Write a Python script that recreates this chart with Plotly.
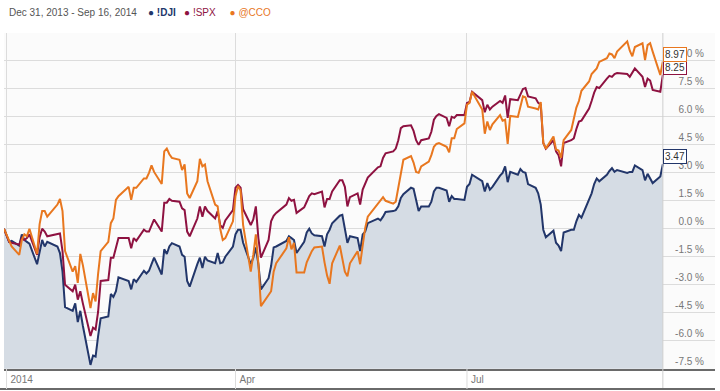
import plotly.graph_objects as go
from datetime import datetime

# ---------------- data ----------------
dates = [
    "2013-12-31",
    "2014-01-02", "2014-01-03", "2014-01-06", "2014-01-07", "2014-01-08", "2014-01-09", "2014-01-10",
    "2014-01-13", "2014-01-14", "2014-01-15", "2014-01-16", "2014-01-17", "2014-01-21", "2014-01-22",
    "2014-01-23", "2014-01-24", "2014-01-27", "2014-01-28", "2014-01-29", "2014-01-30", "2014-01-31",
    "2014-02-03", "2014-02-04", "2014-02-05", "2014-02-06", "2014-02-07", "2014-02-10", "2014-02-11",
    "2014-02-12", "2014-02-13", "2014-02-14", "2014-02-18", "2014-02-19", "2014-02-20", "2014-02-21",
    "2014-02-24", "2014-02-25", "2014-02-26", "2014-02-27", "2014-02-28",
    "2014-03-03", "2014-03-04", "2014-03-05", "2014-03-06", "2014-03-07", "2014-03-10", "2014-03-11",
    "2014-03-12", "2014-03-13", "2014-03-14", "2014-03-17", "2014-03-18", "2014-03-19", "2014-03-20",
    "2014-03-21", "2014-03-24", "2014-03-25", "2014-03-26", "2014-03-27", "2014-03-28", "2014-03-31",
    "2014-04-01", "2014-04-02", "2014-04-03", "2014-04-04", "2014-04-07", "2014-04-08", "2014-04-09",
    "2014-04-10", "2014-04-11", "2014-04-14", "2014-04-15", "2014-04-16", "2014-04-17", "2014-04-21",
    "2014-04-22", "2014-04-23", "2014-04-24", "2014-04-25", "2014-04-28", "2014-04-29", "2014-04-30",
    "2014-05-01", "2014-05-02", "2014-05-05", "2014-05-06", "2014-05-07", "2014-05-08", "2014-05-09",
    "2014-05-12", "2014-05-13", "2014-05-14", "2014-05-15", "2014-05-16", "2014-05-19", "2014-05-20",
    "2014-05-21", "2014-05-22", "2014-05-23", "2014-05-27", "2014-05-28", "2014-05-29", "2014-05-30",
    "2014-06-02", "2014-06-03", "2014-06-04", "2014-06-05", "2014-06-06", "2014-06-09", "2014-06-10",
    "2014-06-11", "2014-06-12", "2014-06-13", "2014-06-16", "2014-06-17", "2014-06-18", "2014-06-19",
    "2014-06-20", "2014-06-23", "2014-06-24", "2014-06-25", "2014-06-26", "2014-06-27", "2014-06-30",
    "2014-07-01", "2014-07-02", "2014-07-03", "2014-07-07", "2014-07-08", "2014-07-09", "2014-07-10",
    "2014-07-11", "2014-07-14", "2014-07-15", "2014-07-16", "2014-07-17", "2014-07-18", "2014-07-21",
    "2014-07-22", "2014-07-23", "2014-07-24", "2014-07-25", "2014-07-28", "2014-07-29", "2014-07-30",
    "2014-07-31",
    "2014-08-01", "2014-08-04", "2014-08-05", "2014-08-06", "2014-08-07", "2014-08-08", "2014-08-11",
    "2014-08-12", "2014-08-13", "2014-08-14", "2014-08-15", "2014-08-18", "2014-08-19", "2014-08-20",
    "2014-08-21", "2014-08-22", "2014-08-25", "2014-08-26", "2014-08-27", "2014-08-28", "2014-08-29",
    "2014-09-02", "2014-09-03", "2014-09-04", "2014-09-05", "2014-09-08", "2014-09-09", "2014-09-10",
    "2014-09-11", "2014-09-12", "2014-09-15", "2014-09-16",
]

dji = [
    0.0, -0.7, -0.65, -0.9, -0.3, -0.6, -0.7, -0.8, -1.9, -1.2,
    -0.6, -0.95, -0.7, -0.95, -1.3, -2.3, -4.2, -4.4, -4.0, -5.0,
    -4.4, -5.2, -7.3, -6.8, -6.85, -5.75, -4.8, -4.7, -3.5, -3.65,
    -3.35, -2.6, -2.8, -3.25, -2.7, -2.85, -2.25, -2.4, -2.25, -1.9,
    -1.55, -2.45, -1.1, -1.35, -0.95, -0.77, -0.95, -1.4, -1.5, -2.8,
    -3.1, -1.9, -1.55, -2.1, -1.5, -1.7, -1.85, -1.3, -1.85, -1.8,
    -1.5, -0.95, -0.3, -0.05, -0.05, -0.75, -1.9, -1.55, -1.0, -1.9,
    -3.25, -2.65, -2.0, -1.0, -0.95, -0.65, -0.4, -0.5, -0.6, -1.3,
    -0.7, -0.2, 0.0, -0.25, -0.35, -0.4, -0.95, -0.3, -0.05, 0.3,
    0.7, 0.75, 0.05, -0.75, -0.4, -0.5, -1.2, -0.3, -0.15, 0.3,
    0.55, 0.45, 0.65, 0.9, 0.95, 1.0, 1.2, 1.65, 1.85, 2.2,
    2.15, 1.5, 0.95, 1.2, 1.2, 1.45, 2.0, 2.2, 2.2, 2.05,
    1.45, 1.75, 1.6, 1.6, 1.55, 2.25, 2.4, 2.9, 2.55, 2.0,
    2.45, 2.1, 2.25, 2.85, 3.0, 3.35, 2.5, 3.05, 2.9, 3.2,
    3.05, 3.0, 2.4, 2.2, 1.9, 1.3, -0.05, -0.45, -0.1, -0.75,
    -0.9, -1.2, -0.2, -0.05, -0.05, 0.4, 0.75, 0.6, 1.55, 1.9,
    2.4, 2.7, 2.55, 2.9, 3.1, 3.25, 3.05, 3.15, 3.0, 3.05,
    3.05, 3.4, 3.15, 2.6, 2.95, 2.7, 2.45, 2.8, 3.47,
]

spx = [
    0.0, -0.7, -0.75, -0.85, -0.5, -0.6, -0.5, -0.3, -1.4, -0.45,
    0.0, -0.15, -0.4, -0.25, -0.25, -1.2, -3.0, -3.35, -3.0, -3.8,
    -3.35, -4.0, -5.75, -5.3, -5.4, -4.45, -2.8, -2.75, -1.55, -1.55,
    -0.95, -0.5, -0.5, -1.05, -0.5, -0.65, -0.05, -0.15, -0.15, 0.2,
    0.5, -0.15, 1.4, 1.4, 1.6, 1.5, 1.45, 1.1, 1.0, -0.15,
    -0.4, 0.55, 1.2, 0.65, 1.2, 0.95, 0.55, 0.95, 0.2, 0.05,
    0.45, 1.0, 2.2, 2.35, 2.2, 1.05, 0.2, 0.5, 1.2, -0.5,
    -1.55, -0.6, 0.4, 0.7, 0.85, 1.3, 1.65, 1.5, 1.55, 0.85,
    1.15, 1.45, 1.75, 1.9, 1.85, 2.0, 1.15, 1.6, 1.6, 2.0,
    2.6, 2.6, 2.25, 1.2, 1.7, 1.9, 1.3, 2.1, 2.4, 2.75,
    3.3, 3.35, 3.8, 4.05, 4.15, 4.3, 4.75, 5.4, 5.5, 5.55,
    5.25, 4.75, 4.5, 4.75, 4.85, 5.2, 5.85, 6.05, 6.15, 5.95,
    5.5, 6.0, 5.95, 6.1, 6.1, 6.75, 6.8, 7.35, 6.9, 6.25,
    6.65, 6.4, 6.55, 6.85, 6.75, 7.15, 5.95, 6.95, 6.9, 7.25,
    7.5, 7.55, 7.1, 7.0, 6.75, 6.65, 4.6, 4.3, 4.75, 4.15,
    3.95, 3.35, 4.6, 4.75, 4.85, 5.35, 5.75, 5.8, 6.45, 6.85,
    7.3, 7.6, 7.55, 8.05, 8.2, 8.15, 8.3, 8.35, 8.3, 8.15,
    8.4, 8.6, 8.15, 7.6, 8.05, 7.95, 7.45, 7.35, 8.25,
]

cco = [
    0.0, -0.7, -0.95, -1.4, -0.6, -0.3, -0.4, 0.0, -1.35, 0.25,
    0.95, 0.95, 0.65, 1.3, 1.6, 0.95, -1.2, -2.3, -2.0, -2.9,
    -1.35, -1.95, -4.25, -3.45, -3.9, -2.4, -1.2, -0.7, 0.3, 0.55,
    1.55, 1.75, 2.25, 1.55, 2.2, 2.2, 2.7, 2.7, 3.0, 3.4,
    3.05, 2.4, 4.15, 4.3, 4.0, 3.8, 3.7, 3.15, 3.45, 1.9,
    1.65, 2.55, 3.75, 3.35, 3.45, 2.55, 1.3, 1.2, 0.0, -0.6,
    -0.5, 0.4, 1.75, 2.3, 2.05, 0.2, -2.3, -1.4, -0.3, -1.85,
    -4.15, -3.55, -3.35, -2.3, -1.85, -1.05, -0.45, -1.1, -0.75, -2.35,
    -2.35, -1.8, -1.45, -1.2, -1.0, -0.95, -1.8, -2.5, -2.95, -1.85,
    -0.9, -1.55, -2.3, -2.55, -1.85, -1.2, -1.9, -0.9, 0.05, 0.65,
    1.35, 1.5, 1.7, 1.5, 1.35, 1.45, 2.2, 3.15, 3.7, 3.9,
    3.55, 3.05, 3.0, 3.35, 3.6, 3.95, 4.4, 4.55, 4.6, 4.4,
    4.1, 4.85, 4.85, 5.35, 5.65, 6.65, 6.75, 7.35, 6.4, 5.1,
    5.75, 5.3, 5.6, 6.1, 5.8, 5.85, 4.55, 6.05, 6.0, 6.55,
    7.1, 7.05, 6.55, 6.45, 6.4, 6.8, 4.6, 4.3, 4.95, 4.25,
    4.2, 3.8, 4.75, 5.3, 5.85, 6.5, 6.85, 7.4, 7.9, 8.3,
    8.45, 8.6, 8.95, 9.15, 9.4, 9.35, 9.15, 9.5, 10.05, 9.55,
    9.25, 9.75, 9.95, 9.05, 9.85, 9.95, 9.5, 8.25, 8.97,
]

series_names = ["!DJI", "!SPX", "@CCO"]
series_values = [dji, spx, cco]
series_colors = ["#22366a", "#8e1241", "#e8771f"]

y_ticks = [-7.5, -6.0, -4.5, -3.0, -1.5, 0.0, 1.5, 3.0, 4.5, 6.0, 7.5, 9.0, 10.5]
y_tick_text = [f"{v:.1f} %" for v in y_ticks[:-1]] + [""]

x_ticks = ["2014-01-01", "2014-04-01", "2014-07-01"]
x_tick_text = ["2014", "Apr", "Jul"]

FONT = "Liberation Sans, Arial, sans-serif"
GRID = "#dcdcdc"
W, H = 720, 391
M = dict(l=4, r=5, t=33, b=22)
PLOT_H = H - M["t"] - M["b"]
ROW = 20  # height of the date-label row under the plot

fig = go.Figure()

# baseline for the DJI area fill (bottom of the value axis)
fig.add_trace(go.Scatter(x=dates, y=[y_ticks[0]] * len(dates), mode="lines",
                         line=dict(width=0), hoverinfo="skip", showlegend=False))
fig.add_trace(go.Scatter(x=dates, y=dji, mode="lines", fill="tonexty",
                         fillcolor="#d5dce4", line=dict(width=0),
                         hoverinfo="skip", showlegend=False))

for name, vals, col in zip(series_names, series_values, series_colors):
    fig.add_trace(go.Scatter(x=dates, y=vals, mode="lines", name=name,
                             line=dict(color=col, width=2), showlegend=False))

# end-value boxes
annotations = []
for vals, col in zip(series_values, series_colors):
    annotations.append(dict(
        x=dates[-1], y=vals[-1], xref="x", yref="y", xanchor="left", yanchor="bottom",
        text=f"{vals[-1]:.2f}", showarrow=False, bgcolor="white", bordercolor=col,
        borderwidth=1, borderpad=1, font=dict(family=FONT, size=10, color="#333")))

# header with date span and legend
d0 = datetime.strptime(dates[0], "%Y-%m-%d")
d1 = datetime.strptime(dates[-1], "%Y-%m-%d")
span = f"{d0:%b %d, %Y} - {d1:%b %d, %Y}"
parts = [f"<span style='color:#555'>{span}</span>"]
gaps = ["\u00a0\u00a0\u00a0\u00a0", "\u00a0\u00a0\u00a0", "\u00a0\u00a0\u00a0\u00a0\u00a0"]
for i, (name, col) in enumerate(zip(series_names, series_colors)):
    label = f"<b>{name}</b>" if i == 0 else name
    parts.append(f"{gaps[i]}<span style='color:{col}'>●\u00a0{label}</span>")
annotations.append(dict(x=0, y=1, xref="paper", yref="paper", xanchor="left", yanchor="middle",
                        xshift=3, yshift=21, text="".join(parts), showarrow=False,
                        font=dict(family=FONT, size=10, color="#555")))

shapes = [
    # last-date divider (plot area and label row)
    dict(type="line", xref="x", x0=dates[-1], x1=dates[-1], yref="paper",
         ysizemode="pixel", yanchor=0, y0=-ROW, y1=PLOT_H, line=dict(color="#cfcfcf", width=1)),
    # bottom border of the date row
    dict(type="line", xref="paper", x0=-0.01, x1=1, yref="paper",
         ysizemode="pixel", yanchor=0, y0=-ROW, y1=-ROW, line=dict(color="#6a6a6a", width=2)),
]
# tick separators continuing into the date row
for tv in x_ticks:
    shapes.append(dict(type="line", xref="x", x0=tv, x1=tv, yref="paper",
                       ysizemode="pixel", yanchor=0, y0=-ROW, y1=0,
                       line=dict(color=GRID, width=1)))

fig.update_layout(
    width=W, height=H,
    margin=M,
    paper_bgcolor="white", plot_bgcolor="#fbfbfb",
    font=dict(family=FONT, size=10, color="#777"),
    showlegend=False,
    annotations=annotations, shapes=shapes,
    xaxis=dict(type="date", range=["2013-12-31", "2014-10-06 12:00"], automargin=False,
               tickmode="array", tickvals=x_ticks, ticktext=x_tick_text,
               showgrid=True, gridcolor=GRID, gridwidth=1,
               ticks="", ticklabelposition="outside right", ticklabelshift=3,
               showline=True, linecolor="#6a6a6a", linewidth=2,
               tickfont=dict(family=FONT, size=10, color="#777"), zeroline=False),
    yaxis=dict(side="right", range=[y_ticks[0] - 0.02, y_ticks[-1]], automargin=False,
               tickmode="array", tickvals=y_ticks, ticktext=y_tick_text,
               showgrid=True, gridcolor=GRID, gridwidth=1, zeroline=False,
               ticks="", ticklabelposition="inside", ticklabelstandoff=8, ticklabelshift=-7,
               tickfont=dict(family=FONT, size=10, color="#777")),
)

fig.write_html("out.html", config={"displayModeBar": False},
               post_script="document.body.style.margin='0';")
